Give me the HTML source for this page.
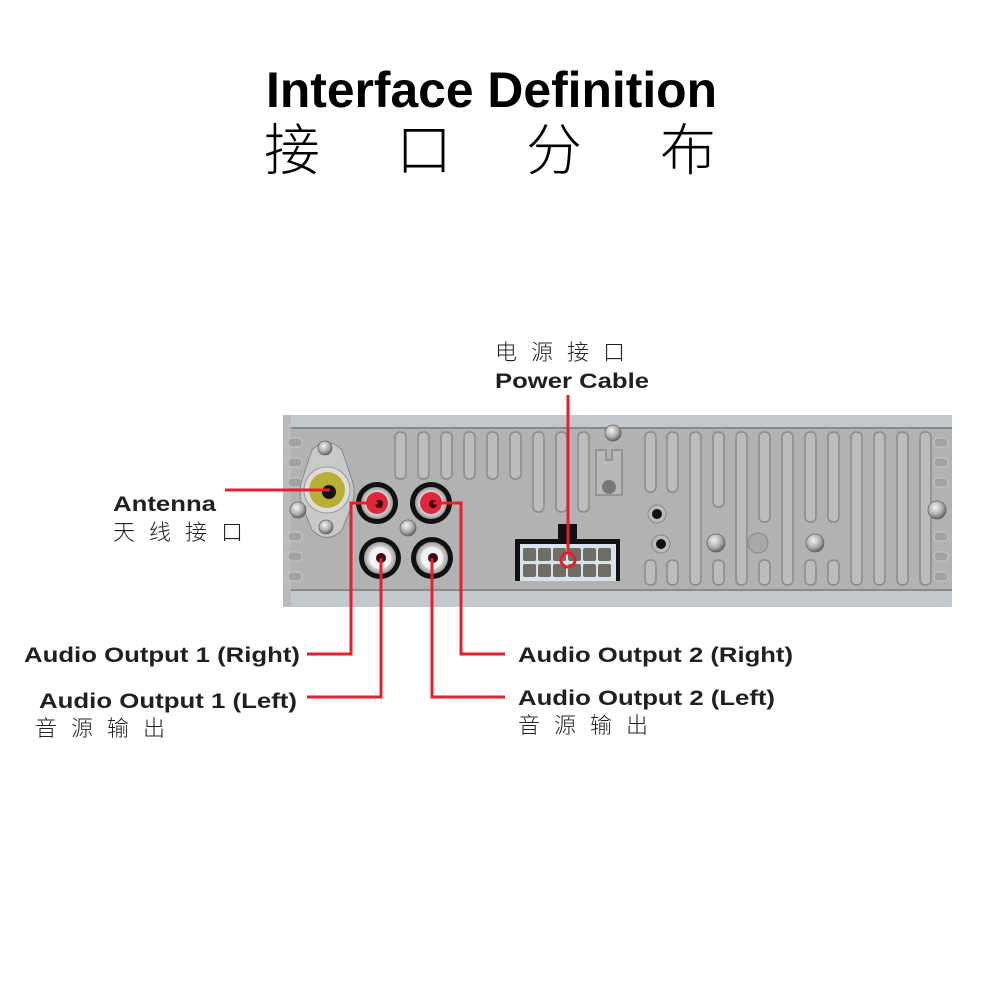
<!DOCTYPE html>
<html><head><meta charset="utf-8"><style>
html,body{margin:0;padding:0;background:#fff;}
svg{display:block}
.b{font-family:"Liberation Sans",sans-serif;font-weight:bold;fill:#231f20}
.c{font-family:"Liberation Sans","Noto Sans CJK SC",sans-serif;font-weight:300;fill:#231f20}
</style></head><body>
<svg width="1000" height="1000" viewBox="0 0 1000 1000" xmlns="http://www.w3.org/2000/svg">
<defs>
<radialGradient id="scr" cx="0.4" cy="0.35" r="0.7"><stop offset="0" stop-color="#f4f4f4"/><stop offset="0.6" stop-color="#aaa"/><stop offset="1" stop-color="#555"/></radialGradient>
<radialGradient id="silv" cx="0.5" cy="0.5" r="0.5"><stop offset="0.6" stop-color="#e8e8e8"/><stop offset="1" stop-color="#9a9a9a"/></radialGradient>
</defs>
<text x="266" y="107" class="b" font-size="50" textLength="451" lengthAdjust="spacingAndGlyphs" style="fill:#000">Interface Definition</text>
<g class="c" font-size="56" style="fill:#000;font-weight:200">
<text x="264" y="170">接</text><text x="396" y="170">口</text><text x="526" y="170">分</text><text x="660" y="170">布</text>
</g>

<rect x="283" y="415" width="669" height="192" fill="#b2b2b2"/>
<rect x="283" y="415" width="669" height="13" fill="#c3c8cc"/>
<rect x="283" y="590" width="669" height="17" fill="#c3c8cc"/>
<rect x="283" y="427" width="669" height="2" fill="#888"/>
<rect x="283" y="589" width="669" height="2" fill="#8a8a8a"/>
<rect x="283" y="415" width="8" height="192" fill="#b8bcc0"/>
<g fill="#a2a2a2" stroke="#c8c8c8" stroke-width="1">
<rect x="288" y="438" width="14" height="9" rx="4"/><rect x="288" y="458" width="14" height="9" rx="4"/>
<rect x="288" y="478" width="14" height="9" rx="4"/><rect x="288" y="532" width="14" height="9" rx="4"/>
<rect x="288" y="552" width="14" height="9" rx="4"/><rect x="288" y="572" width="14" height="9" rx="4"/>
<rect x="934" y="438" width="14" height="9" rx="4"/><rect x="934" y="458" width="14" height="9" rx="4"/>
<rect x="934" y="478" width="14" height="9" rx="4"/><rect x="934" y="532" width="14" height="9" rx="4"/>
<rect x="934" y="552" width="14" height="9" rx="4"/><rect x="934" y="572" width="14" height="9" rx="4"/>
</g>
<g fill="#bcbcbc" stroke="#8a8a8a" stroke-width="1.5">
<rect x="395" y="432" width="11" height="47" rx="5"/><rect x="418" y="432" width="11" height="47" rx="5"/>
<rect x="441" y="432" width="11" height="47" rx="5"/><rect x="464" y="432" width="11" height="47" rx="5"/>
<rect x="487" y="432" width="11" height="47" rx="5"/><rect x="510" y="432" width="11" height="47" rx="5"/>
<rect x="533" y="432" width="11" height="80" rx="5"/><rect x="556" y="432" width="11" height="80" rx="5"/>
<rect x="578" y="432" width="11" height="80" rx="5"/>
<rect x="645" y="432" width="11" height="60" rx="5"/><rect x="667" y="432" width="11" height="60" rx="5"/>
<rect x="690" y="432" width="11" height="153" rx="5"/><rect x="713" y="432" width="11" height="75" rx="5"/>
<rect x="736" y="432" width="11" height="153" rx="5"/><rect x="759" y="432" width="11" height="90" rx="5"/>
<rect x="782" y="432" width="11" height="153" rx="5"/><rect x="805" y="432" width="11" height="90" rx="5"/>
<rect x="828" y="432" width="11" height="90" rx="5"/><rect x="851" y="432" width="11" height="153" rx="5"/>
<rect x="874" y="432" width="11" height="153" rx="5"/><rect x="897" y="432" width="11" height="153" rx="5"/>
<rect x="920" y="432" width="11" height="153" rx="5"/>
<rect x="645" y="560" width="11" height="25" rx="5"/><rect x="667" y="560" width="11" height="25" rx="5"/>
<rect x="713" y="560" width="11" height="25" rx="5"/><rect x="759" y="560" width="11" height="25" rx="5"/>
<rect x="805" y="560" width="11" height="25" rx="5"/><rect x="828" y="560" width="11" height="25" rx="5"/>
</g>
<path d="M596 450 h10 v10 h6 v-10 h10 v45 h-26z" fill="#b8b8b8" stroke="#8a8a8a" stroke-width="1.5"/>
<circle cx="609" cy="487" r="7" fill="#777"/>
<circle cx="657" cy="514" r="9" fill="#bbb" stroke="#888"/><circle cx="657" cy="514" r="5" fill="#111"/>
<circle cx="661" cy="544" r="9" fill="#bbb" stroke="#888"/><circle cx="661" cy="544" r="5" fill="#111"/>
<circle cx="758" cy="543" r="10" fill="#a8a8a8" stroke="#888"/>
<g fill="url(#scr)" stroke="#666" stroke-width="0.8">
<circle cx="613" cy="433" r="8"/><circle cx="716" cy="543" r="9"/><circle cx="815" cy="543" r="9"/>
<circle cx="937" cy="510" r="9"/><circle cx="408" cy="528" r="8"/>
</g>
<path d="M312 450 Q327 435 342 450 L352 480 Q356 492 352 505 L342 530 Q327 545 312 530 L302 505 Q298 492 302 480Z" fill="#c9c9c9" stroke="#888"/>
<circle cx="327" cy="490" r="23" fill="#ddd" stroke="#999"/>
<circle cx="327" cy="490" r="18" fill="#b8b032"/>
<circle cx="329" cy="492" r="7" fill="#111"/>
<g fill="url(#scr)" stroke="#666" stroke-width="0.8">
<circle cx="325" cy="448" r="7"/><circle cx="326" cy="527" r="7"/><circle cx="298" cy="510" r="8"/>
</g>
<g>
<circle cx="377" cy="503" r="21" fill="#111"/><circle cx="377" cy="503" r="16" fill="url(#silv)"/><circle cx="377" cy="503" r="11" fill="#e0263a"/><circle cx="379" cy="504" r="4" fill="#300"/>
<circle cx="431" cy="503" r="21" fill="#111"/><circle cx="431" cy="503" r="16" fill="url(#silv)"/><circle cx="431" cy="503" r="11" fill="#e0263a"/><circle cx="433" cy="504" r="4" fill="#300"/>
<circle cx="380" cy="558" r="21" fill="#111"/><circle cx="380" cy="558" r="16" fill="url(#silv)"/><circle cx="380" cy="558" r="11" fill="#f4f2f4"/><circle cx="381" cy="558" r="5" fill="#3a0a10"/>
<circle cx="432" cy="558" r="21" fill="#111"/><circle cx="432" cy="558" r="16" fill="url(#silv)"/><circle cx="432" cy="558" r="11" fill="#f4f2f4"/><circle cx="433" cy="558" r="5" fill="#3a0a10"/>
</g>
<rect x="558" y="524" width="19" height="16" fill="#111"/>
<rect x="515" y="539" width="105" height="42" fill="#111"/>
<rect x="520" y="544" width="96" height="37" fill="#d6e2ec"/>
<g fill="#6e6e64">
<rect x="523" y="548" width="13" height="13" rx="2"/><rect x="538" y="548" width="13" height="13" rx="2"/><rect x="553" y="548" width="13" height="13" rx="2"/><rect x="568" y="548" width="13" height="13" rx="2"/><rect x="583" y="548" width="13" height="13" rx="2"/><rect x="598" y="548" width="13" height="13" rx="2"/>
<rect x="523" y="564" width="13" height="13" rx="2"/><rect x="538" y="564" width="13" height="13" rx="2"/><rect x="553" y="564" width="13" height="13" rx="2"/><rect x="568" y="564" width="13" height="13" rx="2"/><rect x="583" y="564" width="13" height="13" rx="2"/><rect x="598" y="564" width="13" height="13" rx="2"/>
</g>
<g stroke="#e4202e" stroke-width="3" fill="none">
<path d="M225 490 H330"/>
<path d="M568 395 V553"/>
<circle cx="568" cy="560" r="7"/>
<path d="M378 503 H351 V654 H307"/>
<path d="M381 558 V697 H307"/>
<path d="M433 503 H461 V654 H505"/>
<path d="M432 558 V697 H505"/>
</g>
<text x="113" y="511" class="b" font-size="21" textLength="103" lengthAdjust="spacingAndGlyphs">Antenna</text>
<text x="113" y="540" class="c" font-size="22" letter-spacing="14">天线接口</text>
<text x="495" y="360" class="c" font-size="22" letter-spacing="14">电源接口</text>
<text x="495" y="388" class="b" font-size="21" textLength="154" lengthAdjust="spacingAndGlyphs">Power Cable</text>
<text x="24" y="662" class="b" font-size="21" textLength="276" lengthAdjust="spacingAndGlyphs">Audio Output 1 (Right)</text>
<text x="39" y="708" class="b" font-size="21" textLength="258" lengthAdjust="spacingAndGlyphs">Audio Output 1 (Left)</text>
<text x="35" y="736" class="c" font-size="22" letter-spacing="14">音源输出</text>
<text x="518" y="662" class="b" font-size="21" textLength="275" lengthAdjust="spacingAndGlyphs">Audio Output 2 (Right)</text>
<text x="518" y="705" class="b" font-size="21" textLength="257" lengthAdjust="spacingAndGlyphs">Audio Output 2 (Left)</text>
<text x="518" y="733" class="c" font-size="22" letter-spacing="14">音源输出</text>
</svg>
</body></html>
